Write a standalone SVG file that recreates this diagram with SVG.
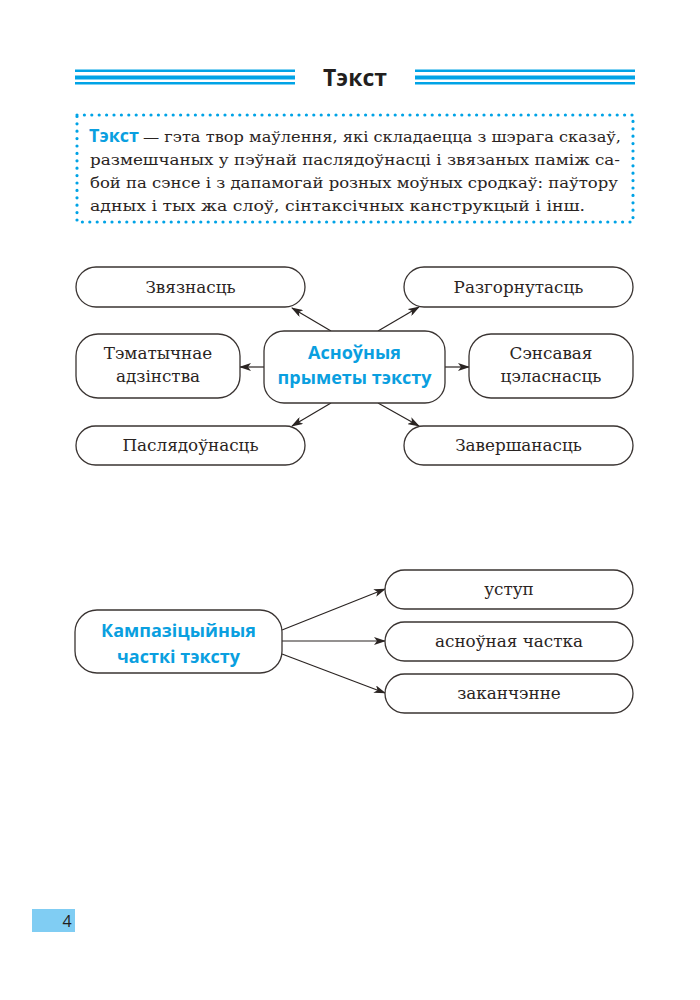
<svg xmlns="http://www.w3.org/2000/svg" width="700" height="1000" viewBox="0 0 700 1000">
<style>
.box{fill:#fff;stroke:#3a3432;stroke-width:1.3}
.t{font-family:"DejaVu Serif","Liberation Serif",serif;font-size:16.8px;fill:#2a2422}
.p{font-family:"DejaVu Serif","Liberation Serif",serif;font-size:15.5px;fill:#2a2422}
.c{text-anchor:middle}
.b{font-family:"Open Sans","Noto Sans",sans-serif;font-weight:bold;fill:#0a9fe0}
.con{stroke:#2a2422;stroke-width:1.2;fill:none;marker-end:url(#ah)}
.hl{fill:#00a3e6}
</style>
<defs>
<marker id="ah" viewBox="0 0 12 8" refX="11" refY="4" markerWidth="12" markerHeight="8" markerUnits="userSpaceOnUse" orient="auto">
<path d="M0,0 L12,4 L0,8 L3,4 z" fill="#2a2422"/>
</marker>
</defs>
<rect width="700" height="1000" fill="#fff"/>
<g id="header">
<rect class="hl" x="75" y="69.5" width="220" height="2.5"/>
<rect class="hl" x="75" y="75.5" width="220" height="4"/>
<rect class="hl" x="75" y="82" width="220" height="2.5"/>
<rect class="hl" x="415" y="69.5" width="220" height="2.5"/>
<rect class="hl" x="415" y="75.5" width="220" height="4"/>
<rect class="hl" x="415" y="82" width="220" height="2.5"/>
<text x="355" y="86" text-anchor="middle" font-family="'Open Sans','Noto Sans',sans-serif" font-weight="bold" font-size="23" fill="#231f1e">Тэкст</text>
</g>
<g id="definition">
<rect x="77" y="115" width="556" height="107" fill="none" stroke="#00a3e6" stroke-width="3.2" stroke-linecap="round" stroke-dasharray="0 7.4"/>
<text class="b" x="89" y="142" font-size="18">Тэкст</text>
<text class="p" x="143" y="142" textLength="478" lengthAdjust="spacingAndGlyphs">— гэта твор маўлення, які складаецца з шэрага сказаў,</text>
<text class="p" x="90" y="165" textLength="530" lengthAdjust="spacingAndGlyphs">размешчаных у пэўнай паслядоўнасці і звязаных паміж са-</text>
<text class="p" x="90" y="188" textLength="528" lengthAdjust="spacingAndGlyphs">бой па сэнсе і з дапамогай розных моўных сродкаў: паўтору</text>
<text class="p" x="90" y="211" textLength="495" lengthAdjust="spacingAndGlyphs">адных і тых жа слоў, сінтаксічных канструкцый і інш.</text>
</g>
<g id="connectors">
<line class="con" x1="331" y1="331" x2="292" y2="308"/>
<line class="con" x1="378" y1="331" x2="419" y2="307"/>
<line class="con" x1="264" y1="367" x2="240" y2="367"/>
<line class="con" x1="445" y1="367" x2="469" y2="367"/>
<line class="con" x1="331" y1="403" x2="292" y2="426"/>
<line class="con" x1="378" y1="403" x2="419" y2="426"/>
<line class="con" x1="282" y1="630" x2="385" y2="589"/>
<line class="con" x1="282" y1="641" x2="385" y2="641"/>
<line class="con" x1="282" y1="654" x2="385" y2="693"/>
</g>
<g id="n-center">
<rect class="box" x="264" y="331" width="181" height="72" rx="20"/>
<text class="b c" x="354.5" y="359" font-size="18">Асноўныя</text>
<text class="b c" x="354.5" y="384" font-size="18">прыметы тэксту</text>
</g>
<g id="n-zvyaznasc">
<rect class="box" x="76" y="267" width="229" height="40" rx="20"/>
<text class="t c" x="190.5" y="293">Звязнасць</text>
</g>
<g id="n-tematychnae">
<rect class="box" x="76" y="334" width="164" height="64" rx="22"/>
<text class="t c" x="158" y="359">Тэматычнае</text>
<text class="t c" x="158" y="382">адзінства</text>
</g>
<g id="n-paslyadounasc">
<rect class="box" x="76" y="426" width="229" height="39" rx="19.5"/>
<text class="t c" x="190.5" y="451">Паслядоўнасць</text>
</g>
<g id="n-razgornutasc">
<rect class="box" x="404" y="267" width="229" height="40" rx="20"/>
<text class="t c" x="518.5" y="293">Разгорнутасць</text>
</g>
<g id="n-sensavaya">
<rect class="box" x="469" y="334" width="164" height="64" rx="22"/>
<text class="t c" x="551" y="359">Сэнсавая</text>
<text class="t c" x="551" y="382">цэласнасць</text>
</g>
<g id="n-zavershanasc">
<rect class="box" x="404" y="426" width="229" height="39" rx="19.5"/>
<text class="t c" x="518.5" y="451">Завершанасць</text>
</g>
<g id="n-kampazicyjnyja">
<rect class="box" x="75" y="610" width="207" height="63" rx="22"/>
<text class="b c" x="178.5" y="637" font-size="18">Кампазіцыйныя</text>
<text class="b c" x="178.5" y="663" font-size="18">часткі тэксту</text>
</g>
<g id="n-ustup">
<rect class="box" x="385" y="570" width="248" height="39" rx="19.5"/>
<text class="t c" x="509" y="595">уступ</text>
</g>
<g id="n-asnounaya">
<rect class="box" x="385" y="622" width="248" height="39" rx="19.5"/>
<text class="t c" x="509" y="647">асноўная частка</text>
</g>
<g id="n-zakanchenne">
<rect class="box" x="385" y="674" width="248" height="39" rx="19.5"/>
<text class="t c" x="509" y="699">заканчэнне</text>
</g>
<g id="page-number">
<rect x="32" y="909" width="43" height="23" fill="#80cdf3"/>
<text x="67" y="927" text-anchor="middle" font-family="'Open Sans','Noto Sans',sans-serif" font-size="16" fill="#231f1e">4</text>
</g>
</svg>
